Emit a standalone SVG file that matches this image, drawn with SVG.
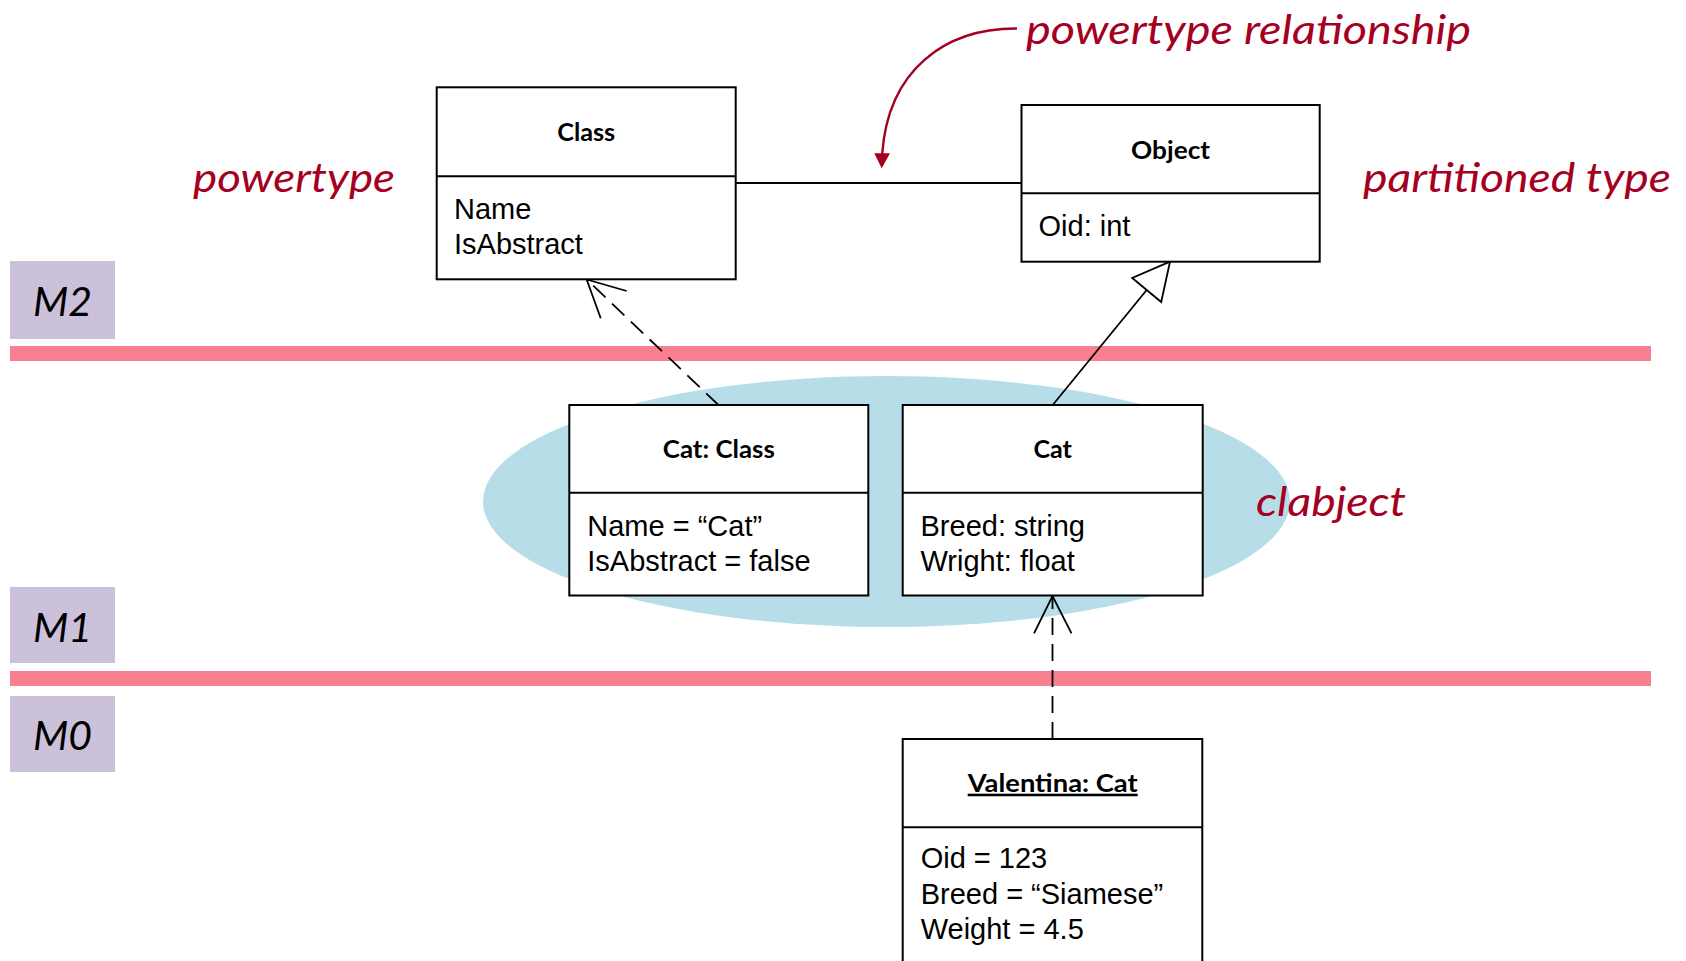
<svg xmlns="http://www.w3.org/2000/svg" width="1686" height="961" viewBox="0 0 1686 961">
  <style>
    .box { fill: #ffffff; stroke: #000000; stroke-width: 2; }
    .div { stroke: #000000; stroke-width: 2; }
    .hdr { font-family: Lato, "Open Sans", sans-serif; font-weight: bold; font-size: 25.5px; fill: #000000; text-anchor: middle; }
    .attr { font-family: "Liberation Sans", Arial, sans-serif; font-size: 29px; fill: #000000; }
    .note { font-family: Lato, "Open Sans", sans-serif; font-style: italic; font-size: 40px; fill: #A50021; }
    .lvl { font-family: Lato, "Open Sans", sans-serif; font-style: italic; font-size: 41px; fill: #000000; text-anchor: middle; }
    .lvlbox { fill: #CCC1DA; }
    .band { fill: #F9818F; }
    .edge { fill: none; stroke: #000000; stroke-width: 1.8; }
    .dash { stroke-dasharray: 17 9; }
  </style>

  <!-- metalevel labels -->
  <g id="level-m2">
    <rect class="lvlbox" x="10" y="261" width="105" height="78"/>
    <text class="lvl" x="62.5" y="316">M2</text>
  </g>
  <g id="level-m1">
    <rect class="lvlbox" x="10" y="587" width="105" height="76"/>
    <text class="lvl" x="62.5" y="642">M1</text>
  </g>
  <g id="level-m0">
    <rect class="lvlbox" x="10" y="696" width="105" height="76"/>
    <text class="lvl" x="62.5" y="750">M0</text>
  </g>

  <!-- level separators -->
  <g id="bands">
    <rect class="band" x="10" y="346" width="1641" height="15"/>
    <rect class="band" x="10" y="671" width="1641" height="15"/>
  </g>

  <!-- clabject highlight -->
  <g id="clabject">
    <ellipse cx="886.5" cy="501.5" rx="403.5" ry="125.5" fill="#B7DEE8"/>
    <text class="note" x="1256" y="516" textLength="150" lengthAdjust="spacingAndGlyphs">clabject</text>
  </g>

  <!-- connectors -->
  <g id="connectors">
    <!-- powertype association -->
    <line class="edge" x1="735.7" y1="183" x2="1021.5" y2="183"/>
    <!-- Cat: Class instance of Class -->
    <line class="edge dash" x1="718.5" y1="405" x2="586.7" y2="279.5"/>
    <polyline class="edge" points="626.7,291 586.7,279.5 600.7,318.3"/>
    <!-- Cat specialises Object -->
    <line class="edge" x1="1052.7" y1="405" x2="1146.7" y2="290"/>
    <polygon points="1170,261.7 1132.2,278 1161.2,302" fill="#ffffff" stroke="#000000" stroke-width="1.8" stroke-linejoin="miter"/>
    <!-- Valentina instance of Cat -->
    <line class="edge dash" x1="1052.5" y1="739" x2="1052.5" y2="596"/>
    <polyline class="edge" points="1034,633.3 1052.5,596 1071.5,633.3"/>
    <!-- annotation arrow -->
    <path d="M1017,28.5 C945,28 888,70 882.2,154" fill="none" stroke="#A50021" stroke-width="2.4"/>
    <polygon points="874.3,153.3 890,153.3 881.7,168.3" fill="#A50021"/>
  </g>

  <!-- annotations -->
  <g id="labels">
    <text class="note" x="1026" y="43.5" textLength="445" lengthAdjust="spacingAndGlyphs">powertype relationship</text>
    <text class="note" x="193" y="191.5" textLength="202" lengthAdjust="spacingAndGlyphs">powertype</text>
    <text class="note" x="1363" y="191.5" textLength="308" lengthAdjust="spacingAndGlyphs">partitioned type</text>
  </g>

  <!-- M2 classes -->
  <g id="node-class">
    <rect class="box" x="436.7" y="87.3" width="299" height="192"/>
    <line class="div" x1="436.7" y1="176.3" x2="735.7" y2="176.3"/>
    <text class="hdr" x="586.2" y="141" textLength="58" lengthAdjust="spacingAndGlyphs">Class</text>
    <text class="attr" x="454" y="218.7">Name</text>
    <text class="attr" x="454" y="254">IsAbstract</text>
  </g>
  <g id="node-object">
    <rect class="box" x="1021.5" y="105" width="298.2" height="156.7"/>
    <line class="div" x1="1021.5" y1="193.3" x2="1319.7" y2="193.3"/>
    <text class="hdr" x="1170.6" y="158.5" textLength="79" lengthAdjust="spacingAndGlyphs">Object</text>
    <text class="attr" x="1038.5" y="235.5">Oid: int</text>
  </g>

  <!-- M1 clabject facets -->
  <g id="node-cat-class">
    <rect class="box" x="569.3" y="405" width="299" height="190.5"/>
    <line class="div" x1="569.3" y1="492.7" x2="868.3" y2="492.7"/>
    <text class="hdr" x="718.8" y="458.3" textLength="112" lengthAdjust="spacingAndGlyphs">Cat: Class</text>
    <text class="attr" x="587.3" y="536">Name = “Cat”</text>
    <text class="attr" x="587.3" y="570.7">IsAbstract = false</text>
  </g>
  <g id="node-cat">
    <rect class="box" x="902.7" y="405" width="300" height="190.5"/>
    <line class="div" x1="902.7" y1="492.7" x2="1202.7" y2="492.7"/>
    <text class="hdr" x="1052.7" y="458.3" textLength="38.5" lengthAdjust="spacingAndGlyphs">Cat</text>
    <text class="attr" x="920.5" y="536">Breed: string</text>
    <text class="attr" x="920.5" y="570.7">Wright: float</text>
  </g>

  <!-- M0 object -->
  <g id="node-valentina">
    <rect class="box" x="902.7" y="739" width="299.6" height="240"/>
    <line class="div" x1="902.7" y1="827.3" x2="1202.3" y2="827.3"/>
    <text class="hdr" x="1052.7" y="791.7" textLength="170" lengthAdjust="spacingAndGlyphs" text-decoration="underline">Valentina: Cat</text>
    <text class="attr" x="920.7" y="868.3">Oid = 123</text>
    <text class="attr" x="920.7" y="904">Breed = “Siamese”</text>
    <text class="attr" x="920.7" y="939.3">Weight = 4.5</text>
  </g>
</svg>
